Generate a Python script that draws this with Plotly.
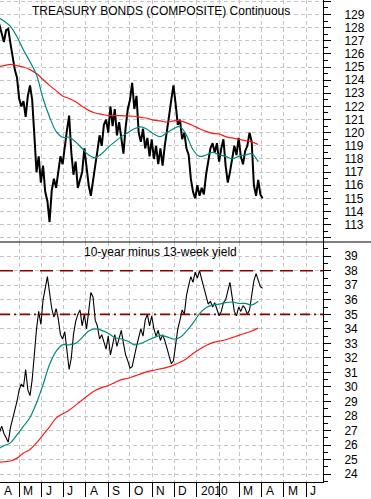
import pandas as pd
import plotly.graph_objects as go

# ---------------- data ----------------
dates = pd.date_range("2009-04-01", periods=123, freq="3D")
ma_dates = pd.date_range("2009-04-01", periods=41, freq="9D")

bond = [128.8, 128.2, 127.5, 126.9, 127.8, 127.9, 126.8, 125.8, 124.8, 124.2,
        122.6, 122.0, 122.4, 121.2, 122.8, 123.6, 122.5, 119.8, 117.0, 118.2,
        116.2, 117.5, 115.5, 114.8, 113.2, 115.6, 116.5, 115.8, 117.2, 118.2,
        117.6, 119.0, 120.2, 121.3, 118.5, 116.8, 117.8, 115.8, 116.5, 117.0,
        118.8, 117.3, 116.0, 115.2, 116.5, 117.5, 118.6, 119.8, 119.0, 120.6,
        121.0, 120.0, 122.0, 120.5, 121.8, 119.8, 120.8, 119.6, 118.4, 120.4,
        121.8, 122.5, 123.8, 121.8, 122.8, 120.0, 119.3, 120.3, 118.8, 119.6,
        118.2, 119.5, 118.0, 119.0, 117.6, 118.8, 117.5, 119.0, 120.0, 121.3,
        122.5, 123.6, 122.2, 120.6, 121.0, 119.5, 120.0, 118.8, 118.3, 116.5,
        115.5, 115.0, 116.0, 115.2, 115.8, 115.3, 116.8, 117.8, 118.8, 119.2,
        118.5, 119.2, 117.8, 118.8, 119.5, 117.5, 116.2, 117.0, 118.0, 119.0,
        118.3, 119.6, 118.2, 117.6, 118.6, 119.0, 120.0, 119.3, 116.0, 115.2,
        116.4, 115.3, 115.0]

bond_ma50 = [128.8, 128.5, 128.1, 127.3, 126.3, 125.4, 124.4, 122.6, 121.2, 120.1,
             119.65, 119.65, 119.3, 118.8, 118.3, 118.1, 118.4, 118.9, 119.3, 119.7,
             120.0, 120.3, 120.45, 120.25, 119.9, 119.7, 120.0, 120.3, 120.45, 119.8,
             118.7, 118.2, 118.3, 118.5, 118.3, 118.2, 118.0, 118.2, 118.3, 118.4,
             117.8]

bond_ma200 = [125.0, 125.1, 125.2, 125.1, 125.0, 124.8, 124.5, 124.05, 123.6, 123.2,
              122.8, 122.6, 122.35, 122.0, 121.7, 121.5, 121.4, 121.3, 121.3, 121.3,
              121.27, 121.25, 121.16, 121.1, 120.95, 120.9, 120.8, 120.9, 120.9, 120.75,
              120.55, 120.3, 120.1, 119.95, 119.9, 119.7, 119.6, 119.5, 119.4, 119.3,
              119.1]

spread = [27.2, 26.9, 27.3, 26.8, 26.5, 26.2, 27.2, 27.8, 28.2, 29.0,
          29.8, 30.2, 30.0, 31.2, 29.8, 29.4, 30.5, 32.6, 34.0, 35.2,
          34.3, 36.0, 36.7, 37.6, 36.5, 35.4, 34.8, 35.4, 34.7, 33.6,
          33.3, 33.8, 32.5, 31.2, 32.0, 33.6, 34.5, 35.0, 35.3, 34.2,
          35.0, 34.0, 35.2, 36.5, 36.2, 34.6, 34.2, 33.3, 33.6, 33.0,
          32.6, 33.5, 32.2, 32.9, 33.6, 32.8, 33.4, 33.9, 33.0, 32.2,
          31.8, 31.3, 31.4, 32.2, 32.8, 33.4, 34.0, 33.5, 34.6, 35.0,
          34.2, 34.9, 34.0, 33.5, 33.9, 33.2, 33.6, 33.2, 32.6, 32.0,
          31.6, 31.8, 33.0, 34.0, 34.6, 35.3, 35.0, 36.3, 37.0, 37.6,
          37.2, 37.9, 37.5, 38.0, 37.4, 36.8, 36.3, 35.7, 35.9, 35.5,
          35.8, 35.3, 34.9, 35.2, 35.8, 36.0, 36.6, 37.2, 36.2, 35.2,
          34.9, 35.5, 35.2, 35.6, 35.4, 35.0, 35.3, 36.2, 37.3, 37.8,
          37.4, 36.9, 36.8]

spread_ma50 = [25.7, 25.95, 26.15, 26.7, 27.3, 27.9, 28.9, 30.15, 31.55, 32.45,
               32.9, 32.9, 33.0, 33.4, 33.85, 34.0, 33.9, 33.7, 33.4, 33.3,
               33.15, 32.9, 33.0, 33.2, 33.4, 33.55, 33.45, 33.3, 33.4, 33.85,
               34.4, 35.05, 35.45, 35.65, 35.7, 35.8, 35.85, 35.75, 35.75, 35.65,
               35.9]

spread_ma200 = [24.8, 24.85, 24.9, 25.1, 25.45, 25.7, 26.15, 26.7, 27.25, 27.85,
                28.15, 28.4, 28.75, 29.1, 29.45, 29.75, 29.95, 30.1, 30.3, 30.5,
                30.6, 30.75, 30.9, 31.05, 31.15, 31.25, 31.35, 31.5, 31.7, 31.95,
                32.3, 32.6, 32.85, 33.05, 33.15, 33.25, 33.4, 33.55, 33.7, 33.85,
                34.05]

upper_level = 38
lower_level = 35

month_ticks = pd.date_range("2009-04-01", "2010-06-01", freq="MS")
month_labels = ["A", "M", "J", "J", "A", "S", "O", "N", "D", "2010", "", "M", "A", "M", "J"]

top_ticks = list(range(112, 131))
top_labels = ["" if v in (112, 130) else str(v) for v in top_ticks]
bot_ticks = list(range(24, 40))
bot_labels = [str(v) for v in bot_ticks]

top_title = "TREASURY BONDS (COMPOSITE) Continuous"
bot_title = "10-year minus 13-week yield"

# ---------------- figure ----------------
FONT = "Liberation Sans, Arial, sans-serif"
W, H = 371, 499
ML, MR, MT, MB = 0, 48, 0, 17
PW, PH = W - ML - MR, H - MT - MB
split = (PH - 242) / PH

x_start = pd.Timestamp("2009-04-04 14:00")
x_end = pd.Timestamp("2010-06-24 10:00")

TEAL = "#00897e"
RED = "#ff1a1a"
DARKRED = "#8b0000"
GRID = "#c4c4c4"

fig = go.Figure()
fig.add_trace(go.Scatter(x=dates, y=bond, mode="lines", line=dict(color="black", width=2),
                         xaxis="x", yaxis="y", hoverinfo="skip"))
fig.add_trace(go.Scatter(x=ma_dates, y=bond_ma200, mode="lines", line=dict(color=RED, width=1.2, shape="spline"),
                         xaxis="x", yaxis="y", hoverinfo="skip"))
fig.add_trace(go.Scatter(x=ma_dates, y=bond_ma50, mode="lines", line=dict(color=TEAL, width=1.2, shape="spline"),
                         xaxis="x", yaxis="y", hoverinfo="skip"))

fig.add_trace(go.Scatter(x=dates, y=spread, mode="lines", line=dict(color="black", width=1.1),
                         xaxis="x", yaxis="y2", hoverinfo="skip"))
fig.add_trace(go.Scatter(x=ma_dates, y=spread_ma200, mode="lines", line=dict(color=RED, width=1.2, shape="spline"),
                         xaxis="x", yaxis="y2", hoverinfo="skip"))
fig.add_trace(go.Scatter(x=ma_dates, y=spread_ma50, mode="lines", line=dict(color=TEAL, width=1.2, shape="spline"),
                         xaxis="x", yaxis="y2", hoverinfo="skip"))

yaxis_common = dict(
    side="right", anchor="x", showline=True, linecolor="black", linewidth=1,
    ticks="outside", ticklen=7, tickcolor="black", tickwidth=1,
    showgrid=True, gridcolor=GRID, griddash="4px,3px", gridwidth=1,
    zeroline=False, tickfont=dict(family=FONT, size=12, color="black"),
    ticklabelstandoff=11,
    minor=dict(dtick=0.5, ticks="outside", ticklen=4, tickcolor="black", showgrid=False),
)

fig.update_layout(
    width=W, height=H, autosize=False,
    margin=dict(l=ML, r=MR, t=MT, b=MB, pad=0),
    paper_bgcolor="white", plot_bgcolor="white",
    showlegend=False,
    hovermode=False,
    font=dict(family=FONT, size=12, color="black"),
    xaxis=dict(
        type="date", range=[x_start, x_end], anchor="y2", domain=[0, 1],
        tickvals=month_ticks, showticklabels=False,
        ticks="outside", ticklen=14, tickcolor="black", tickwidth=1,
        showline=True, linecolor="black", linewidth=1,
        showgrid=True, gridcolor=GRID, griddash="4px,3px", gridwidth=1,
        zeroline=False,
    ),
    yaxis=dict(domain=[split, 1], range=[111.68, 130.1],
               tickvals=top_ticks, ticktext=top_labels, **yaxis_common),
    yaxis2=dict(domain=[0, split], range=[23.456, 39.98],
                tickvals=bot_ticks, ticktext=bot_labels, **yaxis_common),
)

shapes = [
    dict(type="line", xref="paper", yref="y2", x0=0, x1=1, y0=upper_level, y1=upper_level,
         line=dict(color=DARKRED, width=1.6, dash="13px,7px")),
    dict(type="line", xref="paper", yref="y2", x0=0, x1=1, y0=lower_level, y1=lower_level,
         line=dict(color=DARKRED, width=1.6, dash="10px,4px,2px,4px")),
    dict(type="line", xref="paper", yref="paper", x0=0, x1=W / PW, y0=split, y1=split,
         line=dict(color="black", width=1)),
]
fig.update_layout(shapes=shapes)

annotations = [
    dict(text=top_title, xref="paper", yref="paper", x=160.5 / PW, y=1 - 10.5 / PH,
         xanchor="center", yanchor="middle", showarrow=False,
         font=dict(family=FONT, size=12, color="black")),
    dict(text=bot_title, xref="paper", yref="paper", x=160.5 / PW, y=1 - 251.5 / PH,
         xanchor="center", yanchor="middle", showarrow=False,
         font=dict(family=FONT, size=12, color="black")),
]
label_y = (PH - 491.0) / PH
for d, lab in zip(month_ticks, month_labels):
    if not lab:
        continue
    xpos = max(d, x_start)
    annotations.append(dict(text=lab, xref="x", yref="paper", x=xpos, y=label_y,
                            xanchor="left", yanchor="middle", xshift=3, borderpad=0,
                            showarrow=False, font=dict(family=FONT, size=12, color="black")))
fig.update_layout(annotations=annotations)

fig.write_html("out.html", config={"displayModeBar": False, "staticPlot": True},
               post_script="document.body.style.margin='0';document.body.style.overflow='hidden';")
